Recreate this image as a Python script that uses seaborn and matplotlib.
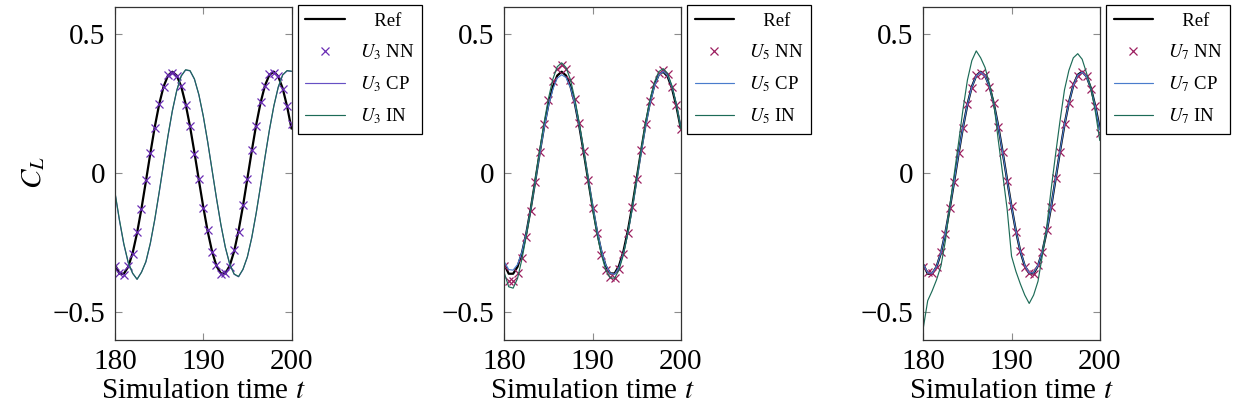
import numpy as np
import pandas as pd
import matplotlib
matplotlib.use("Agg")
import matplotlib.pyplot as plt
import seaborn as sns

# ---------------- data ----------------
t = np.arange(180.0, 200.01, 0.5)

ref = [-0.330, -0.363, -0.363, -0.338, -0.288, -0.216, -0.128, -0.030, 0.070, 0.165,
       0.247, 0.311, 0.351, 0.365, 0.351, 0.312, 0.249, 0.168, 0.074, -0.025,
       -0.122, -0.210, -0.283, -0.335, -0.362, -0.362, -0.334, -0.282, -0.208, -0.119,
       -0.020, 0.080, 0.174, 0.254, 0.316, 0.354, 0.365, 0.348, 0.305, 0.240, 0.160]

# panel U3
nn3 = [-0.335, -0.360, -0.366, -0.335, -0.292, -0.212, -0.131, -0.026, 0.073, 0.162,
       0.250, 0.309, 0.354, 0.362, 0.349, 0.315, 0.246, 0.171, 0.070, -0.021,
       -0.126, -0.207, -0.286, -0.332, -0.365, -0.359, -0.337, -0.279, -0.211, -0.116,
       -0.023, 0.083, 0.171, 0.257, 0.313, 0.357, 0.362, 0.351, 0.302, 0.243, 0.175]
cp3 = [-0.073, -0.171, -0.257, -0.324, -0.362, -0.383, -0.357, -0.321, -0.255, -0.170,
       -0.072, 0.031, 0.132, 0.223, 0.297, 0.349, 0.371, 0.368, 0.338, 0.282,
       0.205, 0.112, 0.010, -0.092, -0.187, -0.268, -0.329, -0.365, -0.374, -0.348,
       -0.303, -0.233, -0.145, -0.046, 0.057, 0.155, 0.241, 0.309, 0.353, 0.368, 0.366]
in3 = [-0.070, -0.168, -0.255, -0.322, -0.361, -0.383, -0.358, -0.319, -0.253, -0.168,
       -0.070, 0.033, 0.134, 0.225, 0.298, 0.350, 0.372, 0.369, 0.339, 0.283,
       0.206, 0.113, 0.011, -0.091, -0.186, -0.267, -0.328, -0.364, -0.373, -0.347,
       -0.302, -0.232, -0.144, -0.045, 0.058, 0.156, 0.242, 0.310, 0.354, 0.369, 0.367]

# panel U5
nn5 = [-0.335, -0.388, -0.390, -0.362, -0.306, -0.230, -0.136, -0.032, 0.075, 0.176,
       0.264, 0.333, 0.376, 0.390, 0.376, 0.334, 0.266, 0.180, 0.079, -0.026,
       -0.127, -0.218, -0.294, -0.348, -0.376, -0.377, -0.347, -0.293, -0.216, -0.124,
       -0.021, 0.082, 0.177, 0.259, 0.322, 0.361, 0.372, 0.355, 0.311, 0.245, 0.159]
cp5 = [-0.320, -0.348, -0.350, -0.330, -0.285, -0.215, -0.130, -0.033, 0.066, 0.159,
       0.240, 0.302, 0.342, 0.354, 0.344, 0.308, 0.249, 0.171, 0.080, -0.017,
       -0.114, -0.203, -0.278, -0.332, -0.361, -0.365, -0.340, -0.290, -0.217, -0.128,
       -0.030, 0.071, 0.166, 0.248, 0.311, 0.352, 0.366, 0.352, 0.311, 0.247, 0.165]
in5 = [-0.360, -0.410, -0.415, -0.380, -0.310, -0.225, -0.130, -0.025, 0.080, 0.180,
       0.268, 0.338, 0.383, 0.397, 0.380, 0.336, 0.266, 0.178, 0.078, -0.025,
       -0.127, -0.218, -0.294, -0.350, -0.378, -0.379, -0.349, -0.294, -0.217, -0.124,
       -0.021, 0.083, 0.180, 0.263, 0.326, 0.365, 0.376, 0.359, 0.314, 0.247, 0.160]

# panel U7
nn7 = [-0.338, -0.355, -0.362, -0.340, -0.286, -0.219, -0.125, -0.033, 0.072, 0.163,
       0.249, 0.308, 0.353, 0.362, 0.353, 0.309, 0.252, 0.165, 0.077, -0.028,
       -0.119, -0.213, -0.280, -0.338, -0.360, -0.364, -0.331, -0.285, -0.205, -0.122,
       -0.017, 0.077, 0.177, 0.251, 0.319, 0.351, 0.363, 0.350, 0.302, 0.243, 0.145]
cp7 = [-0.328, -0.360, -0.361, -0.337, -0.287, -0.215, -0.127, -0.029, 0.071, 0.165,
       0.247, 0.310, 0.350, 0.363, 0.350, 0.311, 0.248, 0.167, 0.073, -0.026,
       -0.122, -0.209, -0.282, -0.333, -0.360, -0.360, -0.333, -0.281, -0.207, -0.118,
       -0.019, 0.081, 0.174, 0.253, 0.315, 0.353, 0.363, 0.347, 0.304, 0.239, 0.155]
in7 = [-0.558, -0.460, -0.425, -0.385, -0.335, -0.245, -0.120, -0.005, 0.110, 0.230,
       0.335, 0.405, 0.440, 0.415, 0.380, 0.320, 0.250, 0.117, -0.005, -0.130,
       -0.300, -0.355, -0.400, -0.440, -0.470, -0.440, -0.390, -0.295, -0.190, -0.055,
       0.070, 0.190, 0.300, 0.370, 0.415, 0.430, 0.410, 0.360, 0.305, 0.220, 0.117]

panel_names = ["3", "5", "7"]
nn_series = [nn3, nn5, nn7]
cp_series = [cp3, cp5, cp7]
in_series = [in3, in5, in7]

xticks = [180, 190, 200]
yticks = [-0.5, 0.0, 0.5]
ytick_labels = ["\u22120.5", "0", "0.5"]
xlabel = "Simulation time $t$"
ylabel = "$C_L$"

# colours
c_ref = "black"
c_nn = ["#6a2cb4", "#9c1f60", "#9c1f60"]
c_cp = ["#6650c4", "#4a7ccc", "#4a7ccc"]
c_in = "#1d6b57"

# ---------------- style ----------------
sns.set_theme(style="ticks")
plt.rcParams["font.family"] = ["Liberation Serif", "DejaVu Serif"]
plt.rcParams["mathtext.fontset"] = "stix"
plt.rcParams["text.color"] = "black"
plt.rcParams["axes.labelcolor"] = "black"

fig = plt.figure(figsize=(12.42, 4.2), dpi=100)
W, H = 1242, 420
lefts = [115, 504.3, 923.3]
ax_w, top_px, bot_px = 176.5, 6.5, 339.5

for i, k in enumerate(panel_names):
    ax = fig.add_axes([lefts[i] / W, 1 - bot_px / H, ax_w / W, (bot_px - top_px) / H])
    df = pd.DataFrame({"t": t, "ref": ref, "nn": nn_series[i],
                       "cp": cp_series[i], "in": in_series[i]})
    sns.lineplot(data=df, x="t", y="ref", ax=ax, color=c_ref, lw=1.6, label="   Ref")
    sns.lineplot(data=df, x="t", y="nn", ax=ax, color=c_nn[i], ls="none", marker="x",
                 markersize=5.5, markeredgewidth=0.9, markeredgecolor=c_nn[i],
                 label=f"$U_{k}$ NN")
    sns.lineplot(data=df, x="t", y="cp", ax=ax, color=c_cp[i], lw=0.85,
                 label=f"$U_{k}$ CP")
    sns.lineplot(data=df, x="t", y="in", ax=ax, color=c_in, lw=0.85,
                 label=f"$U_{k}$ IN")

    ax.set_xlim(180, 200)
    ax.set_ylim(-0.6, 0.6)
    ax.set_xticks(xticks)
    ax.set_yticks(yticks)
    ax.set_yticklabels(ytick_labels)
    ax.tick_params(direction="in", length=5, width=0.8, color="#8c8c8c",
                   top=True, right=True, labelsize=21, pad=7, labelcolor="black")
    for s in ax.spines.values():
        s.set_color("#333333")
        s.set_linewidth(0.9)
    ax.set_xlabel(xlabel, fontsize=21, labelpad=2, color="black")
    if i == 0:
        ax.set_ylabel(ylabel, fontsize=21, labelpad=4, color="black")
    else:
        ax.set_ylabel("")

    leg = ax.legend(loc="upper left", bbox_to_anchor=(1.034, 1.005), fontsize=13.5,
                    frameon=True, fancybox=False, edgecolor="black", framealpha=1,
                    borderaxespad=0, handlelength=2.1, labelspacing=0.66,
                    borderpad=0.42, handletextpad=0.8, numpoints=1)
    leg.get_frame().set_linewidth(0.9)
    for txt in leg.get_texts():
        txt.set_color("black")

fig.savefig("out.png", dpi=100)
